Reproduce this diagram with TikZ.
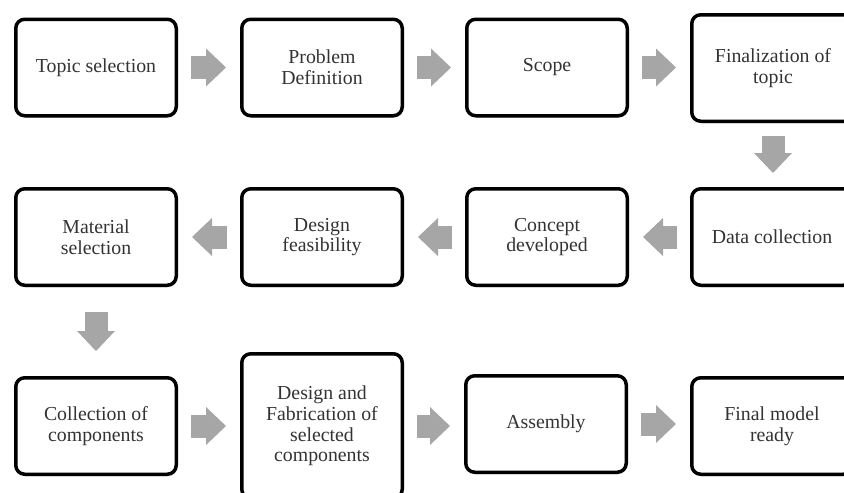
\documentclass[tikz,border=0pt]{standalone}
\usepackage{fontspec}
\setmainfont{Liberation Serif}
\usetikzlibrary{arrows.meta, shadows}
\definecolor{boxtext}{HTML}{333333}
\definecolor{arrowgray}{HTML}{A6A6A6}
\begin{document}
\begin{tikzpicture}[x=1pt, y=-1pt,
    stage/.style={draw, line width=3.5pt, rounded corners=9pt, fill=white, minimum width=160.5pt, minimum height=96.5pt, align=center, text=boxtext, font=\fontsize{19.8}{20.8}\selectfont, drop shadow={shadow xshift=1pt, shadow yshift=-2pt, opacity=.25}},
    flow/.style={draw=arrowgray, line width=23pt, -{Triangle[length=20pt, width=38pt, line width=0pt]}, shorten <=13pt, shorten >=14pt}]
    \useasboundingbox (0,0) rectangle (844,493);
    \node[stage](topic) at (96,67.5){Topic selection};
    \node[stage](problem) at (322,67.5){Problem\\Definition};
    \node[stage](scope) at (547,67.5){Scope};
    \node[stage, minimum width=162.5pt, minimum height=106.5pt](final) at (773,68){Finalization of\\topic};
    \node[stage](material) at (96,237){Material\\selection};
    \node[stage](feasib) at (322,237){Design\\feasibility};
    \node[stage](concept) at (547,237){Concept\\developed};
    \node[stage](data) at (772,237){Data collection};
    \node[stage](collect) at (96,426){Collection of\\components};
    \node[stage, minimum height=144.5pt](fabric) at (322,426){Design and\\Fabrication of\\selected\\components};
    \node[stage](assembly) at (546,424){Assembly};
    \node[stage](ready) at (772,426){Final model\\ready};
    \draw[flow](topic.east)--(topic.east -| problem.west);
    \draw[flow](problem.east)--(problem.east -| scope.west);
    \draw[flow](scope.east)--(scope.east -| final.west);
    \draw[flow](final.south)--(final.south |- data.north);
    \draw[flow](data.west)--(data.west -| concept.east);
    \draw[flow](concept.west)--(concept.west -| feasib.east);
    \draw[flow](feasib.west)--(feasib.west -| material.east);
    \draw[flow, shorten <=25pt, shorten >=25pt](material)--(collect);
    \draw[flow](collect.east)--(collect.east -| fabric.west);
    \draw[flow](fabric.east)--(fabric.east -| assembly.west);
    \draw[flow](assembly.east)--(assembly.east -| ready.west);
\end{tikzpicture}
\end{document}
